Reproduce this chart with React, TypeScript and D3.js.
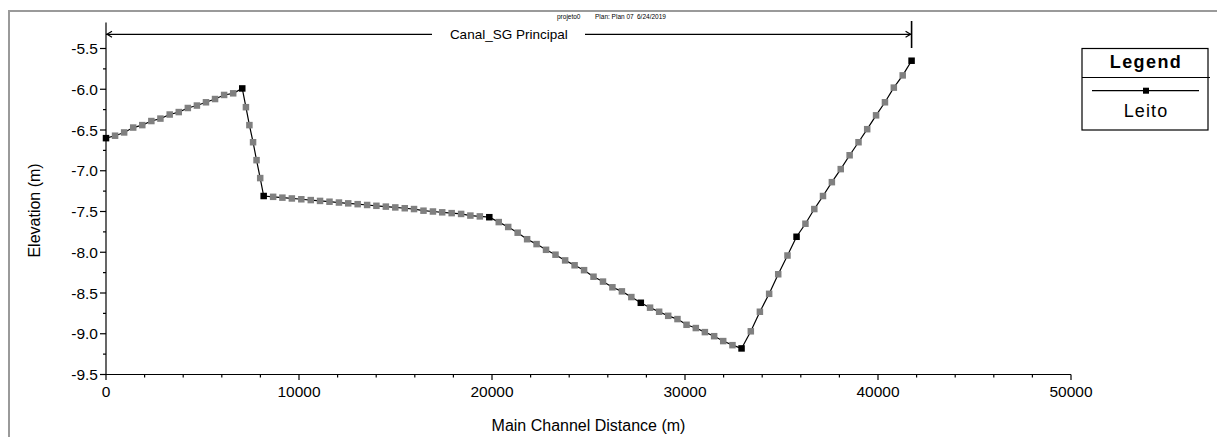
import React from "react";
import * as d3 from "d3";

// Main channel distance (m) of each cross section
const distance = [
  0, 470, 940, 1410, 1880, 2350, 2820, 3300, 3770, 4240, 4710, 5180, 5650, 6120, 6590, 7060,
  7250, 7430, 7620, 7800, 7990, 8170,
  8660, 9140, 9630, 10120, 10610, 11090, 11580, 12070, 12550, 13040, 13530, 14010, 14500, 14990,
  15480, 15960, 16450, 16940, 17420, 17910, 18400, 18880, 19370, 19860,
  20350, 20840, 21330, 21820, 22310, 22800, 23290, 23790, 24280, 24770, 25260, 25750, 26240,
  26730, 27220, 27710,
  28190, 28660, 29130, 29610, 30080, 30560, 31030, 31510, 31980, 32460, 32930,
  33410, 33880, 34360, 34830, 35310, 35780,
  36240, 36700, 37150, 37610, 38070, 38530, 38990, 39440, 39900, 40360, 40820, 41280, 41740,
];

// Bed elevation "Leito" (m)
const elevation = [
  -6.6, -6.57, -6.53, -6.47, -6.44, -6.39, -6.36, -6.31, -6.28, -6.23, -6.2, -6.16, -6.12, -6.07, -6.05, -5.99,
  -6.22, -6.44, -6.65, -6.87, -7.09, -7.31,
  -7.32, -7.33, -7.34, -7.35, -7.36, -7.37, -7.38, -7.39, -7.4, -7.41, -7.42, -7.43, -7.44, -7.45,
  -7.46, -7.47, -7.49, -7.5, -7.51, -7.52, -7.53, -7.55, -7.56, -7.57,
  -7.63, -7.69, -7.76, -7.84, -7.9, -7.97, -8.03, -8.1, -8.16, -8.22, -8.3, -8.36, -8.43,
  -8.48, -8.55, -8.62,
  -8.68, -8.73, -8.78, -8.82, -8.89, -8.93, -8.98, -9.03, -9.09, -9.14, -9.18,
  -8.97, -8.73, -8.51, -8.27, -8.04, -7.81,
  -7.65, -7.47, -7.31, -7.14, -6.98, -6.81, -6.65, -6.49, -6.32, -6.16, -5.98, -5.83, -5.65,
];

// Surveyed (non-interpolated) cross sections, drawn in black
const surveyedDistances = [0, 7060, 8170, 19860, 27710, 32930, 35780, 41740];

const xTicks = [0, 10000, 20000, 30000, 40000, 50000];
const yTicks = [-9.5, -9.0, -8.5, -8.0, -7.5, -7.0, -6.5, -6.0, -5.5];
const xMinorTicks = [2000, 4000, 6000, 8000, 12000, 14000, 16000, 18000, 22000, 24000, 26000, 28000,
  32000, 34000, 36000, 38000, 42000, 44000, 46000, 48000];
const yMinorTicks = [-9.25, -8.75, -8.25, -7.75, -7.25, -6.75, -6.25, -5.75];

const reachName = "Canal_SG Principal";
const headerTexts = ["projeto0", "Plan: Plan 07", "6/24/2019"];
const seriesName = "Leito";

const W = 1217;
const H = 437;
const FONT = "'Liberation Sans', Arial, sans-serif";

export default function App() {
  const x = d3.scaleLinear().domain([0, 50000]).range([106, 1071]);
  const y = d3.scaleLinear().domain([-9.5, -5.5]).range([374.5, 48.5]);
  const yTop = y(-5.18);
  const x0 = x(0);
  const yb = y(-9.5);

  const pts = distance.map((d, i) => ({ d, e: elevation[i], s: surveyedDistances.includes(d) }));
  const line = d3
    .line<{ d: number; e: number }>()
    .x((p) => x(p.d))
    .y((p) => y(p.e));

  const reachStart = x(distance[0]);
  const reachEnd = x(distance[distance.length - 1]);
  const arrowY = 34.3;
  const gapL = 432;
  const gapR = 585;
  const sq = 6.5;

  return (
    <svg
      width={W}
      height={H}
      style={{ position: "absolute", left: 0, top: 0, background: "#fff" }}
      fontFamily={FONT}
    >
      {/* outer frame */}
      <rect x={9} y={11} width={1400} height={600} fill="none" stroke="#9a9a9a" strokeWidth={2} />

      {/* header */}
      <g fontSize={6.5} fill="#000">
        <text x={557} y={19}>{headerTexts[0]}</text>
        <text x={595} y={19}>{headerTexts[1]}</text>
        <text x={637} y={19}>{headerTexts[2]}</text>
      </g>

      {/* reach range marker */}
      <g stroke="#000" strokeWidth={1.2} fill="none">
        <line x1={reachStart} y1={arrowY} x2={gapL} y2={arrowY} />
        <line x1={gapR} y1={arrowY} x2={reachEnd} y2={arrowY} />
        <polyline points={`${reachStart + 6},${arrowY - 3} ${reachStart + 1},${arrowY} ${reachStart + 6},${arrowY + 3}`} />
        <polyline points={`${reachEnd - 6},${arrowY - 3} ${reachEnd - 1},${arrowY} ${reachEnd - 6},${arrowY + 3}`} />
        <line x1={reachEnd} y1={21} x2={reachEnd} y2={48} strokeWidth={1.6} />
      </g>
      <text x={(reachStart + reachEnd) / 2} y={39} textAnchor="middle" fontSize={13.5}>
        {reachName}
      </text>

      {/* axes */}
      <g stroke="#000" strokeWidth={1.2}>
        <line x1={x0} y1={yTop} x2={x0} y2={yb} />
        <line x1={x0} y1={yb} x2={x(50000)} y2={yb} />
        {xTicks.map((t) => (
          <line key={"xt" + t} x1={x(t)} x2={x(t)} y1={yb} y2={yb + 5.5} />
        ))}
        {xMinorTicks.map((t) => (
          <line key={"xm" + t} x1={x(t)} x2={x(t)} y1={yb} y2={yb + 3} />
        ))}
        {yTicks.map((t) => (
          <line key={"yt" + t} x1={x0 - 6} x2={x0} y1={y(t)} y2={y(t)} />
        ))}
        {yMinorTicks.map((t) => (
          <line key={"ym" + t} x1={x0 - 3} x2={x0} y1={y(t)} y2={y(t)} />
        ))}
      </g>
      <g fontSize={15.5} fill="#000">
        {xTicks.map((t) => (
          <text key={"xl" + t} x={x(t)} y={yb + 22} textAnchor="middle">
            {t}
          </text>
        ))}
        {yTicks.map((t) => (
          <text key={"yl" + t} x={x0 - 8} y={y(t) + 5.5} textAnchor="end">
            {t.toFixed(1)}
          </text>
        ))}
      </g>
      <text x={(x0 + x(50000)) / 2} y={431} textAnchor="middle" fontSize={16}>
        Main Channel Distance (m)
      </text>
      <text
        transform={`translate(40,${(yTop + yb) / 2 + 12}) rotate(-90)`}
        textAnchor="middle"
        fontSize={16}
      >
        Elevation (m)
      </text>

      {/* series */}
      <path d={line(pts) || ""} fill="none" stroke="#000" strokeWidth={1.2} />
      {pts.map((p, i) => (
        <rect
          key={i}
          x={x(p.d) - sq / 2}
          y={y(p.e) - sq / 2}
          width={sq}
          height={sq}
          fill={p.s ? "#000" : "#808080"}
        />
      ))}

      {/* legend */}
      <g>
        <rect x={1082} y={48.5} width={126} height={81.5} fill="#fff" stroke="#000" strokeWidth={1.2} />
        <line x1={1082} y1={77.5} x2={1210} y2={77.5} stroke="#000" strokeWidth={1.2} />
        <text x={1146} y={68} textAnchor="middle" fontSize={18} fontWeight="bold" letterSpacing={1.4}>
          Legend
        </text>
        <line x1={1092} y1={90.7} x2={1199} y2={90.7} stroke="#000" strokeWidth={1.2} />
        <rect x={1146 - 3} y={90.7 - 3} width={6} height={6} fill="#000" />
        <text x={1146} y={117} textAnchor="middle" fontSize={18} letterSpacing={1.1}>
          {seriesName}
        </text>
      </g>
    </svg>
  );
}
